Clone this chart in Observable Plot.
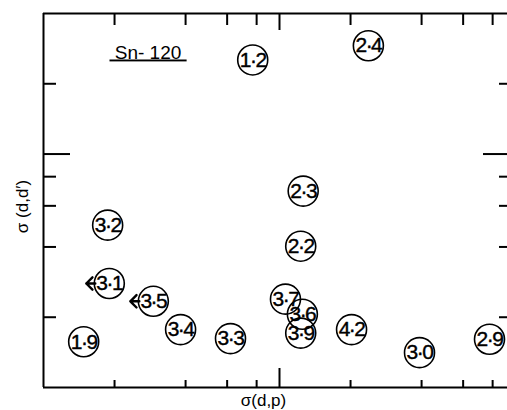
<!DOCTYPE html>
<html><head><meta charset="utf-8">
<script src="https://cdn.jsdelivr.net/npm/d3@7"></script>
<script src="https://cdn.jsdelivr.net/npm/@observablehq/plot@0.6"></script>
<style>
body{margin:0;background:#fff;}
.title text{text-decoration:underline;text-decoration-thickness:2px;text-underline-offset:5px;}
.lbl text{letter-spacing:-1.5px;}
</style></head><body><div id="chart"></div>
<script>
const labels  = ["1·2","2·4","2·3","2·2","3·2","3·1","3·5","3·7","3·6","3·9","3·4","3·3","1·9","4·2","3·0","2·9"];
const sigmaDP = [0.77, 2.38, 1.26, 1.23, 0.187, 0.19, 0.292, 1.06, 1.25, 1.23, 0.381, 0.62, 0.148, 2.02, 3.92, 7.76];
const sigmaDD = [2.53, 2.91, 0.694, 0.403, 0.496, 0.279, 0.234, 0.239, 0.206, 0.171, 0.177, 0.162, 0.157, 0.177, 0.141, 0.161];
const upperLimits = ["3·1", "3·5"];
const xMinorTicks = [0.2, 0.4, 0.6, 0.8, 2, 4, 6, 8];
const xMajorTicks = [1];
const yMinorTicks = [0.2, 0.4, 0.6, 0.8, 2];
const yMajorTicks = [1];
const xDomain = [0.1, 10];
const yDomain = [0.1, 4];
const title = "\u00a0Sn- 120\u00a0";
const xLabel = "σ(d,p)";
const yLabel = "σ (d,d′)";

const points = labels.map((label, i) => ({label, dp: sigmaDP[i], dd: sigmaDD[i]}));
const limits = points.filter(d => upperLimits.includes(d.label));
const font = "'Liberation Sans', Arial, sans-serif";
const noText = () => "";

const chart = Plot.plot({
  width: 507, height: 410,
  marginLeft: 43, marginRight: 0, marginTop: 13, marginBottom: 23,
  style: {background: "#fff", fontFamily: font, overflow: "hidden"},
  x: {type: "log", domain: xDomain, range: [43, 515]},
  y: {type: "log", domain: yDomain, range: [387, 13]},
  marks: [
    Plot.ruleX([xDomain[0]], {strokeWidth: 2}),
    Plot.ruleY([yDomain[0]], {strokeWidth: 2}),
    Plot.ruleY([yDomain[1]], {strokeWidth: 2}),
    Plot.axisX({anchor: "bottom", ticks: xMinorTicks, tickSize: -7, strokeWidth: 2, tickFormat: noText, label: null}),
    Plot.axisX({anchor: "bottom", ticks: xMajorTicks, tickSize: -19, strokeWidth: 2, tickFormat: noText, label: null}),
    Plot.axisX({anchor: "top", ticks: xMinorTicks, tickSize: -11, strokeWidth: 2, tickFormat: noText, label: null}),
    Plot.axisX({anchor: "top", ticks: xMajorTicks, tickSize: -16, strokeWidth: 2, tickFormat: noText, label: null}),
    Plot.axisY({anchor: "left", ticks: yMinorTicks, tickSize: -13, strokeWidth: 2, tickFormat: noText, label: null}),
    Plot.axisY({anchor: "left", ticks: yMajorTicks, tickSize: -27, strokeWidth: 2, tickFormat: noText, label: null}),
    Plot.axisY({anchor: "right", ticks: yMinorTicks, tickSize: -9, strokeWidth: 2, tickFormat: noText, label: null}),
    Plot.axisY({anchor: "right", ticks: yMajorTicks, tickSize: -25, strokeWidth: 2, tickFormat: noText, label: null}),
    Plot.dot(points, {x: "dp", y: "dd", r: 15, stroke: "black", strokeWidth: 1.6}),
    Plot.text(points, {x: "dp", y: "dd", text: "label", fontSize: 21, fill: "black", fontFamily: font, className: "lbl", stroke: "black", strokeWidth: 0.4}),
    Plot.vector(limits, {x: "dp", y: "dd", rotate: -90, length: 9, r: 12, anchor: "start", dx: -14, shape: "arrow", stroke: "black", strokeWidth: 2.4}),
    Plot.text([title], {frameAnchor: "top-left", dx: 66, dy: 45, text: d => d, textAnchor: "start", lineAnchor: "bottom", fontSize: 19, fontFamily: font, className: "title"}),
    Plot.text([xLabel], {frameAnchor: "bottom", dx: -12, dy: 13, text: d => d, textAnchor: "middle", lineAnchor: "middle", fontSize: 17, fontFamily: font}),
    Plot.text([yLabel], {frameAnchor: "left", dx: -21, dy: 6, rotate: -90, text: d => d, textAnchor: "middle", lineAnchor: "middle", fontSize: 17, fontFamily: font})
  ]
});
document.getElementById("chart").append(chart);
</script></body></html>
